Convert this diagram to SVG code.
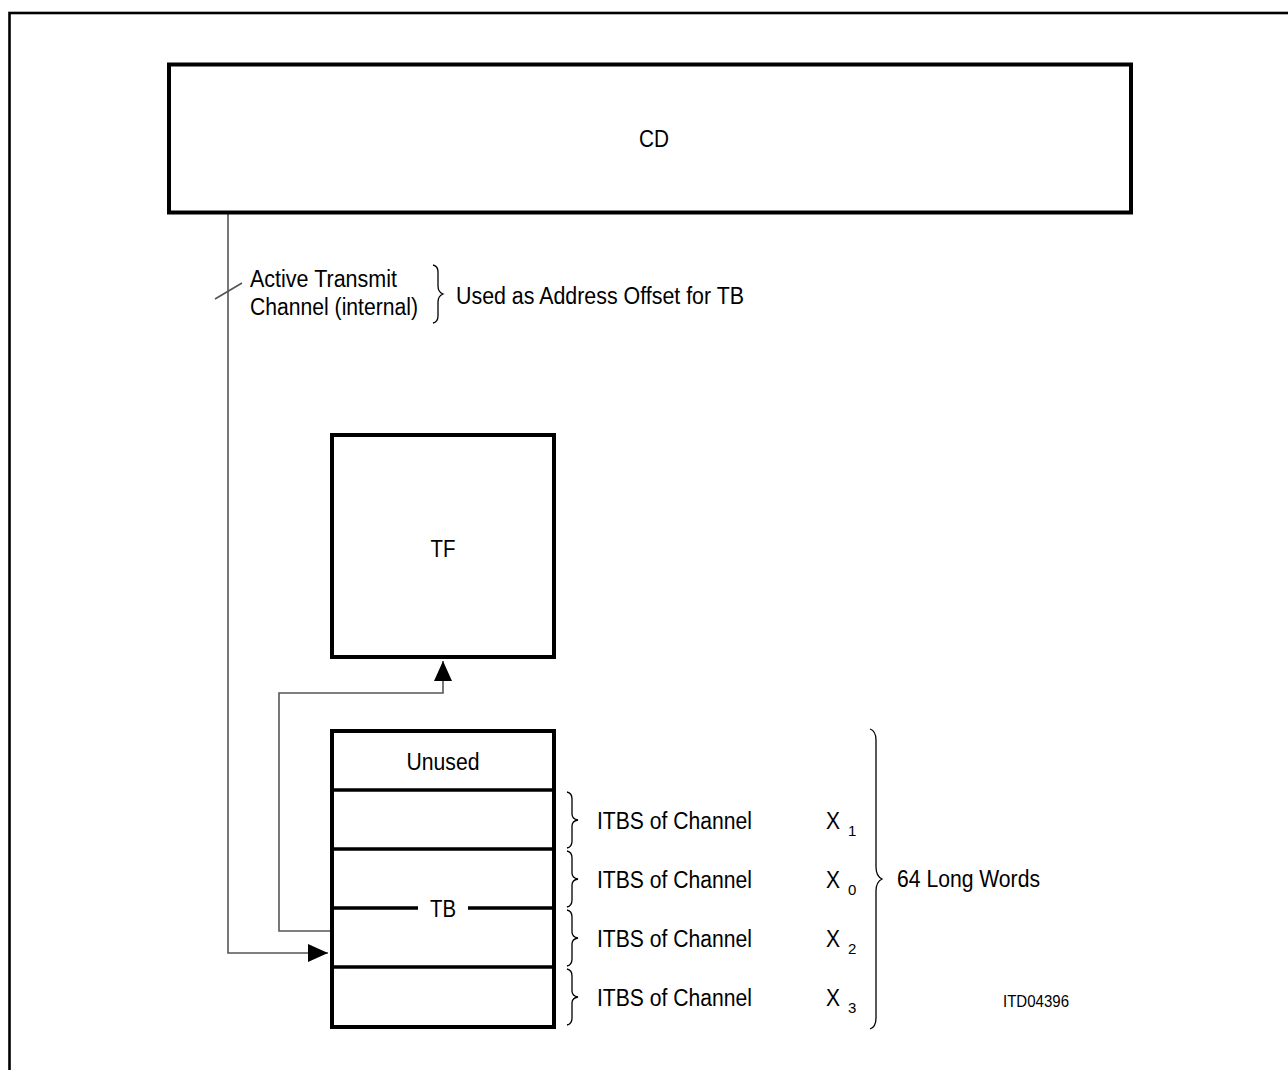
<svg xmlns="http://www.w3.org/2000/svg" width="1288" height="1070" viewBox="0 0 1288 1070">
<defs>
<style>
.box{fill:#fff;stroke:#000;stroke-width:4}
.div{stroke:#000;stroke-width:3.5;fill:none}
.t{font-family:"Liberation Sans",Arial,sans-serif;font-size:23.5px;fill:#000}
.c{text-anchor:middle}
.sub{font-size:15px}
.conn{stroke:#555;stroke-width:1.6;fill:none}
.brace{stroke:#000;stroke-width:1.3;fill:none}
</style>
<marker id="ah" markerWidth="20" markerHeight="18" refX="20" refY="9" orient="auto" markerUnits="userSpaceOnUse">
<path d="M0,0 L20,9 L0,18 Z" fill="#000"/>
</marker>
</defs>
<rect width="1288" height="1070" fill="#fff"/>
<rect x="9.5" y="13" width="1300" height="1100" fill="none" stroke="#000" stroke-width="2.6"/>

<g id="connectors">
<path class="conn" d="M228,213 V953 H328" marker-end="url(#ah)"/>
<path class="conn" d="M331,931 H279 V693 H443 V661" marker-end="url(#ah)"/>
<line class="conn" x1="215" y1="299" x2="242" y2="283" stroke="#000"/>
</g>

<g id="CD">
<rect class="box" x="169" y="64.5" width="962" height="148"/>
<text class="t c" x="654" y="147" textLength="30" lengthAdjust="spacingAndGlyphs">CD</text>
</g>

<g id="annotation">
<text class="t" x="250" y="287" textLength="147" lengthAdjust="spacingAndGlyphs">Active Transmit</text>
<text class="t" x="250" y="315" textLength="168" lengthAdjust="spacingAndGlyphs">Channel (internal)</text>
<path class="brace" d="M433,265 Q438,266 438,272 V286 Q438,292 443,294 Q438,296 438,302 V316 Q438,322 433,323"/>
<text class="t" x="456" y="304" textLength="288" lengthAdjust="spacingAndGlyphs">Used as Address Offset for TB</text>
</g>

<g id="TF">
<rect class="box" x="332" y="435" width="222" height="222"/>
<text class="t c" x="443" y="557" textLength="25" lengthAdjust="spacingAndGlyphs">TF</text>
</g>

<g id="TB">
<rect class="box" x="332" y="731" width="222" height="296"/>
<line class="div" x1="332" y1="790" x2="554" y2="790"/>
<line class="div" x1="332" y1="849" x2="554" y2="849"/>
<line class="div" x1="332" y1="908" x2="418" y2="908"/>
<line class="div" x1="468" y1="908" x2="554" y2="908"/>
<line class="div" x1="332" y1="967" x2="554" y2="967"/>
<text class="t c" x="443" y="770" textLength="73" lengthAdjust="spacingAndGlyphs">Unused</text>
<text class="t c" x="443" y="917" textLength="26" lengthAdjust="spacingAndGlyphs">TB</text>
</g>

<g id="labels">
<path class="brace" d="M567,792 Q572,793 572,799 V814 Q572,819 578,820 Q572,821 572,826 V841 Q572,847 567,848"/>
<path class="brace" d="M567,851 Q572,852 572,858 V873 Q572,878 578,879 Q572,880 572,885 V900 Q572,906 567,907"/>
<path class="brace" d="M567,910 Q572,911 572,917 V932 Q572,937 578,938 Q572,939 572,944 V959 Q572,965 567,966"/>
<path class="brace" d="M567,969 Q572,970 572,976 V991 Q572,996 578,997 Q572,998 572,1003 V1018 Q572,1024 567,1025"/>
<text class="t" x="597" y="829" textLength="155" lengthAdjust="spacingAndGlyphs">ITBS of Channel</text>
<text class="t" x="597" y="888" textLength="155" lengthAdjust="spacingAndGlyphs">ITBS of Channel</text>
<text class="t" x="597" y="947" textLength="155" lengthAdjust="spacingAndGlyphs">ITBS of Channel</text>
<text class="t" x="597" y="1006" textLength="155" lengthAdjust="spacingAndGlyphs">ITBS of Channel</text>
<text class="t" x="826" y="829" textLength="14" lengthAdjust="spacingAndGlyphs">X</text>
<text class="t sub" x="848" y="836">1</text>
<text class="t" x="826" y="888" textLength="14" lengthAdjust="spacingAndGlyphs">X</text>
<text class="t sub" x="848" y="895">0</text>
<text class="t" x="826" y="947" textLength="14" lengthAdjust="spacingAndGlyphs">X</text>
<text class="t sub" x="848" y="954">2</text>
<text class="t" x="826" y="1006" textLength="14" lengthAdjust="spacingAndGlyphs">X</text>
<text class="t sub" x="848" y="1013">3</text>
<path class="brace" d="M870,729 Q876,731 876,740 V867 Q876,876 882,879 Q876,882 876,891 V1018 Q876,1027 870,1029"/>
<text class="t" x="897" y="887" textLength="143" lengthAdjust="spacingAndGlyphs">64 Long Words</text>
<text class="t" x="1003" y="1007" style="font-size:16.5px" textLength="66" lengthAdjust="spacingAndGlyphs">ITD04396</text>
</g>
</svg>
